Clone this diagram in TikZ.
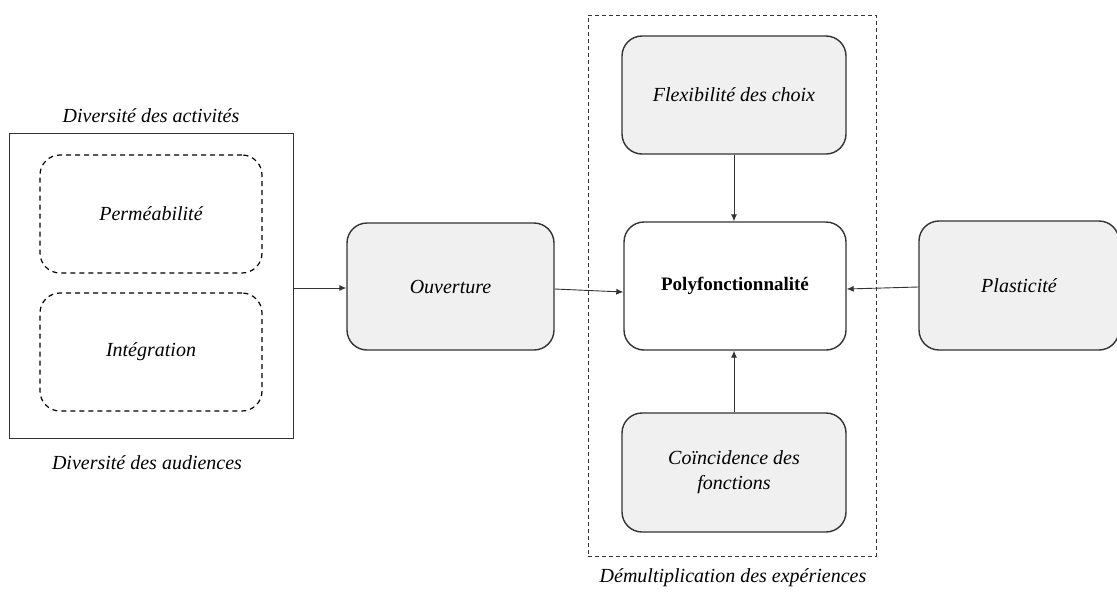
\documentclass[tikz,border=0pt]{standalone}
\usepackage{fontspec}
\setmainfont{Liberation Serif}
\usetikzlibrary{arrows.meta}
\definecolor{boxgray}{HTML}{F0F0F0}
\definecolor{linec}{HTML}{333333}
\tikzset{
  gbox/.style={draw=linec, line width=1.4pt, fill=boxgray, rounded corners=20pt, align=center, font=\fontsize{20}{25}\selectfont\itshape},
  wbox/.style={draw=linec, line width=1.4pt, fill=white, rounded corners=20pt, align=center, font=\fontsize{19}{23}\selectfont\bfseries},
  dbox/.style={draw=black, line width=1.2pt, dash pattern=on 5pt off 4pt, rounded corners=20pt, align=center, font=\fontsize{20}{25}\selectfont\itshape},
  lbl/.style={font=\fontsize{20}{25}\selectfont\itshape, inner sep=0pt},
  arr/.style={draw=linec, line width=0.9pt, -{Latex[length=7pt,width=6pt]}}
}
\begin{document}
\begin{tikzpicture}[x=1pt,y=-1pt]
\useasboundingbox (0,0) rectangle (1117,592);
% left group
\node[draw=linec, line width=0.9pt, minimum width=284pt, minimum height=305pt, inner sep=0pt] (outer) at (151,285.5) {};
\node[dbox, minimum width=222pt, minimum height=118pt] (perm) at (151,214) {Perméabilité};
\node[dbox, minimum width=222pt, minimum height=118pt] (integ) at (151,352) {Intégration};
\node[lbl] (divact) at (151,116) {Diversité des activités};
\node[lbl] (divaud) at (147,463) {Diversité des audiences};
% center group
\node[draw=linec, line width=0.9pt, dash pattern=on 4pt off 3pt, minimum width=288pt, minimum height=541pt, inner sep=0pt] (group) at (732,285.5) {};
\node[lbl] (demult) at (733,578) {Démultiplication des expériences};
\node[gbox, minimum width=207pt, minimum height=127pt] (ouv) at (450.5,286.5) {Ouverture};
\node[wbox, minimum width=222pt, minimum height=128pt] (poly) at (735,286) {Polyfonctionnalité};
\node[gbox, minimum width=224pt, minimum height=118pt] (flex) at (734,95) {Flexibilité des choix};
\node[gbox, minimum width=224pt, minimum height=119pt] (coin) at (734,472.5) {Coïncidence des\\fonctions};
\node[gbox, minimum width=200pt, minimum height=129pt] (plast) at (1019,285.5) {Plasticité};
% arrows
\draw[arr] (outer.east |- 0,288) -- (ouv.west |- 0,288);
\draw[arr] (ouv.east |- 0,289) -- (poly.west |- 0,292);
\draw[arr] (flex.south -| 734,0) -- (poly.north -| 734,0);
\draw[arr] (coin.north -| 734,0) -- (poly.south -| 734,0);
\draw[arr] (plast.west |- 0,287) -- (poly.east |- 0,289);
\end{tikzpicture}
\end{document}
